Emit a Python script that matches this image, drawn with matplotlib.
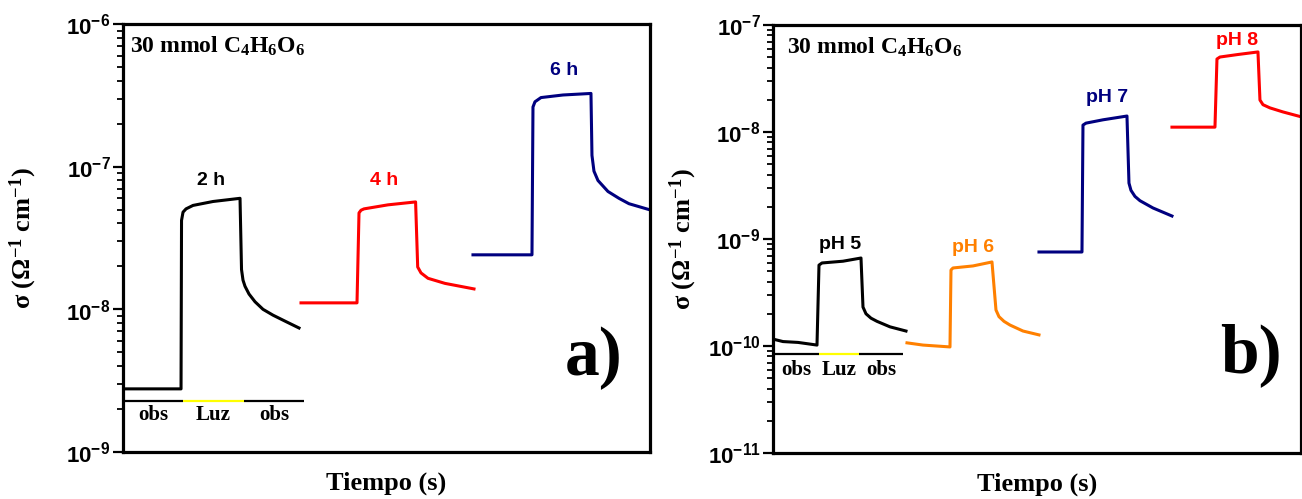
import math

import matplotlib

matplotlib.use("Agg")

import matplotlib.pyplot as plt
from matplotlib.ticker import FixedLocator, FuncFormatter, NullFormatter

plt.rcParams["mathtext.fontset"] = "custom"
plt.rcParams["mathtext.rm"] = "Liberation Serif:bold"
plt.rcParams["mathtext.it"] = "Liberation Serif:bold"
plt.rcParams["mathtext.bf"] = "Liberation Serif:bold"
plt.rcParams["mathtext.sf"] = "Liberation Sans:bold"
plt.rcParams["mathtext.default"] = "rm"

SERIF = ["Liberation Serif", "DejaVu Serif"]
SANS = ["Liberation Sans", "DejaVu Sans"]

# --- panel a): synthesis time series (time in arbitrary s, sigma in S/cm) ---
t_2h = [0, 58, 58.5, 60, 63, 70, 90, 117, 118.5, 120, 122, 126, 132, 140, 150, 163, 176]
s_2h = [2.77e-9, 2.77e-9, 4.2e-8, 4.8e-8, 5.06e-8, 5.35e-8, 5.7e-8, 6.0e-8,
        1.9e-8, 1.6e-8, 1.45e-8, 1.28e-8, 1.13e-8, 1.0e-8, 9.1e-9, 8.2e-9, 7.4e-9]
t_4h = [178, 234, 236, 238, 241, 265, 292.6, 294.7, 298, 305, 322, 351]
s_4h = [1.11e-8, 1.11e-8, 4.74e-8, 4.95e-8, 5.06e-8, 5.4e-8, 5.66e-8,
        1.98e-8, 1.8e-8, 1.65e-8, 1.52e-8, 1.39e-8]
t_6h = [350, 409, 410, 412, 418, 440, 468, 469, 471, 475, 485, 496, 506, 527]
s_6h = [2.41e-8, 2.41e-8, 2.62e-7, 2.85e-7, 3.05e-7, 3.18e-7, 3.26e-7,
        1.2e-7, 9.3e-8, 8.0e-8, 6.7e-8, 6.0e-8, 5.5e-8, 4.98e-8]
labels_a = ["2 h", "4 h", "6 h"]
colors_a = ["black", "#ff0000", "#00007f"]
label_pos_a = [(88, 7.94e-8), (261, 7.94e-8), (441, 4.69e-7)]
yticks_a = [1e-9, 1e-8, 1e-7, 1e-6]

# --- panel b): pH series ---
t_ph5 = [0, 10, 25, 44, 46, 49, 70, 88, 90, 93, 98, 104, 117, 133]
s_ph5 = [1.16e-10, 1.1e-10, 1.08e-10, 1.02e-10, 5.7e-10, 5.97e-10, 6.2e-10, 6.64e-10,
         2.31e-10, 2.0e-10, 1.82e-10, 1.7e-10, 1.51e-10, 1.38e-10]
t_ph6 = [134, 150, 177, 178, 180, 200, 219, 223, 226, 231, 237, 250, 266]
s_ph6 = [1.07e-10, 1.02e-10, 9.8e-11, 5.13e-10, 5.36e-10, 5.6e-10, 6.1e-10,
         2.17e-10, 1.88e-10, 1.7e-10, 1.57e-10, 1.38e-10, 1.27e-10]
t_ph7 = [266, 309, 310, 313, 330, 354, 356, 358, 362, 367, 380, 399]
s_ph7 = [7.56e-10, 7.56e-10, 1.16e-8, 1.21e-8, 1.3e-8, 1.41e-8,
         3.33e-9, 2.85e-9, 2.5e-9, 2.28e-9, 1.95e-9, 1.64e-9]
t_ph8 = [399, 442, 444, 447, 465, 485, 487, 490, 497, 510, 529]
s_ph8 = [1.11e-8, 1.11e-8, 4.81e-8, 5.02e-8, 5.3e-8, 5.6e-8,
         1.99e-8, 1.8e-8, 1.68e-8, 1.54e-8, 1.38e-8]
labels_b = ["pH 5", "pH 6", "pH 7", "pH 8"]
colors_b = ["black", "#ff8000", "#00007f", "#ff0000"]
label_pos_b = [(67, 8.8e-10), (200, 8.24e-10), (334, 2.08e-8), (464, 7.24e-8)]
yticks_b = [1e-11, 1e-10, 1e-9, 1e-8, 1e-7]

# dark / light / dark indicator bars: (x0, x_on, x_off, x1, y_line, y_text)
bar_a = (0, 60, 121, 181, 2.28e-9, 1.82e-9)
bar_b = (0, 46, 86, 130, 8.41e-11, 5.97e-11)

YLABEL = r"σ (Ω$^{-1}$ cm$^{-1}$)"
TITLE = r"30 mmol C$_4$H$_6$O$_6$"


def _decade(val, _pos):
    """Bold sans 10^n tick label."""
    return r"$\mathsf{10^{%d}}$" % round(math.log10(val))


def style_axes(ax, yticks, xmax, ylabel_x, title_x):
    ax.set_yscale("log")
    ax.set_ylim(yticks[0], yticks[-1])
    ax.set_xlim(0, xmax)
    minors = [m * d for d in yticks[:-1] for m in range(2, 10)]
    ax.yaxis.set_major_locator(FixedLocator(yticks))
    ax.yaxis.set_minor_locator(FixedLocator(minors))
    ax.yaxis.set_major_formatter(FuncFormatter(_decade))
    ax.yaxis.set_minor_formatter(NullFormatter())
    ax.set_xticks([])
    ax.tick_params(axis="y", which="major", direction="out", length=7,
                   width=1.6, labelsize=16, pad=2)
    ax.tick_params(axis="y", which="minor", direction="out", length=4, width=1.3)
    for sp in ax.spines.values():
        sp.set_linewidth(2.3)
    ax.set_ylabel(YLABEL, family=SERIF, fontweight="bold", fontsize=19)
    ax.yaxis.label.set_va("center")
    ax.yaxis.set_label_coords(ylabel_x, 0.5)
    ax.set_xlabel("Tiempo (s)", family=SERIF, fontweight="bold", fontsize=19)
    ax.xaxis.label.set_va("center")
    ax.xaxis.set_label_coords(0.5, -0.073)
    ax.text(title_x, 0.932, TITLE, transform=ax.transAxes,
            family=SERIF, fontweight="bold", fontsize=17, va="baseline", ha="left")


def draw_bar(ax, bar):
    x0, x_on, x_off, x1, y_line, y_text = bar
    ax.plot([x0, x_on], [y_line, y_line], color="black", lw=1.6, solid_capstyle="butt")
    ax.plot([x_on, x_off], [y_line, y_line], color="#ffff00", lw=1.6, solid_capstyle="butt")
    ax.plot([x_off, x1], [y_line, y_line], color="black", lw=1.6, solid_capstyle="butt")
    for xc, txt in zip([(x0 + x_on) / 2, (x_on + x_off) / 2, (x_off + x1) / 2],
                       ["obs", "Luz", "obs"]):
        ax.text(xc, y_text, txt, family=SERIF, fontweight="bold", fontsize=15,
                ha="center", va="center")


fig = plt.figure(figsize=(13.02, 4.99), dpi=100)
ax_a = fig.add_axes([0.0945, 0.0942, 0.4047, 0.8577])
ax_b = fig.add_axes([0.5937, 0.0922, 0.4055, 0.8577])

for t, s, c in zip([t_2h, t_4h, t_6h], [s_2h, s_4h, s_6h], colors_a):
    ax_a.plot(t, s, color=c, lw=2.2)
for (x, y), txt, c in zip(label_pos_a, labels_a, colors_a):
    ax_a.text(x, y, txt, color=c, family=SANS, fontweight="bold", fontsize=14,
              ha="center", va="center")
style_axes(ax_a, yticks_a, 527, -0.19, 0.014)
draw_bar(ax_a, bar_a)
ax_a.text(0.894, 0.22, "a)", transform=ax_a.transAxes, family=SERIF,
          fontweight="bold", fontsize=50, ha="center", va="center")

for t, s, c in zip([t_ph5, t_ph6, t_ph7, t_ph8], [s_ph5, s_ph6, s_ph7, s_ph8], colors_b):
    ax_b.plot(t, s, color=c, lw=2.2)
for (x, y), txt, c in zip(label_pos_b, labels_b, colors_b):
    ax_b.text(x, y, txt, color=c, family=SANS, fontweight="bold", fontsize=14,
              ha="center", va="center")
style_axes(ax_b, yticks_b, 528, -0.17, 0.027)
draw_bar(ax_b, bar_b)
ax_b.text(0.905, 0.229, "b)", transform=ax_b.transAxes, family=SERIF,
          fontweight="bold", fontsize=50, ha="center", va="center")

fig.savefig("out.png", dpi=100)
